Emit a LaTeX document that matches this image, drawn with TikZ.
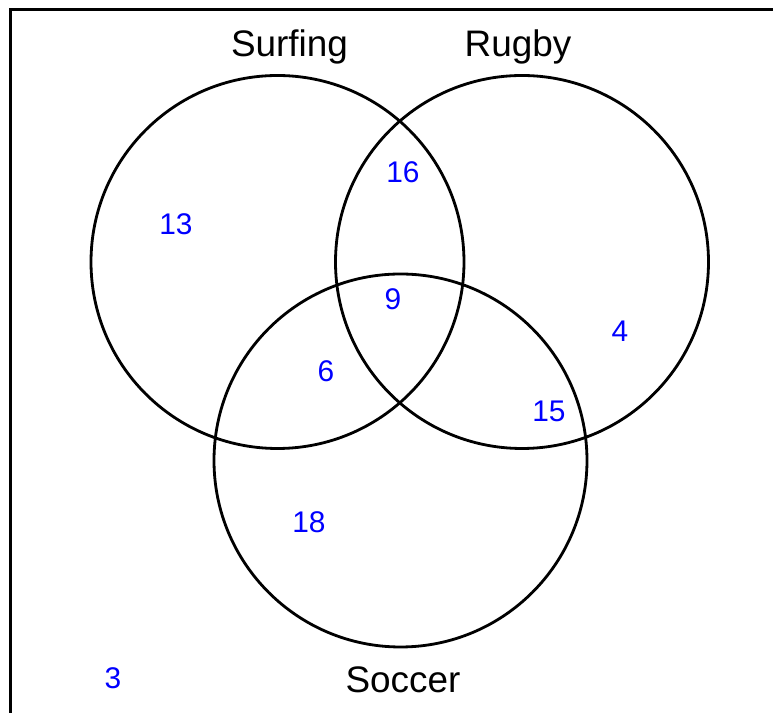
\documentclass[tikz,border=0pt]{standalone}
\usepackage{fontspec}
\setmainfont{Liberation Sans}
\usepackage{tikz}
\usetikzlibrary{positioning}

\begin{document}
\begin{tikzpicture}[
  setcircle/.style={circle, draw=black, line width=1.6pt, minimum size=7.46cm, inner sep=0pt},
  setlabel/.style={font=\fontsize{21}{25}\selectfont, anchor=base},
  count/.style={font=\fontsize{17}{20}\selectfont, text=blue},
]
\useasboundingbox (0, 0) rectangle (15.46, 14.26);

% --- Frame (top and left edges) ---
\draw[line width=1.8pt] (0.21, 0) -- (0.21, 14.07) -- (15.46, 14.07);

% --- Sets ---
\node[setcircle] (surfing) at (5.55, 9.02) {};
\node[setcircle] (rugby)   at (10.44, 9.02) {};
\node[setcircle] (soccer)  at (8.01, 5.05) {};

% Set names
\node[setlabel] (surfname)   at (5.79, 13.12) {Surfing};
\node[setlabel] (rugbyname)  at (10.36, 13.12) {Rugby};
\node[setlabel] (soccername) at (8.06, 0.40) {Soccer};

% --- Region counts ---
\node[count] (onlysurf)  at (3.52, 9.78)  {13};
\node[count] (surfrug)   at (8.06, 10.82) {16};
\node[count] (allthree)  at (7.86, 8.28)  {9};
\node[count] (surfsoc)   at (6.52, 6.84)  {6};
\node[count] (rugsoc)    at (10.98, 6.04) {15};
\node[count] (onlyrug)   at (12.40, 7.64) {4};
\node[count] (onlysoc)   at (6.18, 3.82)  {18};
\node[count, anchor=base] (none) at (2.26, 0.48) {3};

\end{tikzpicture}
\end{document}
